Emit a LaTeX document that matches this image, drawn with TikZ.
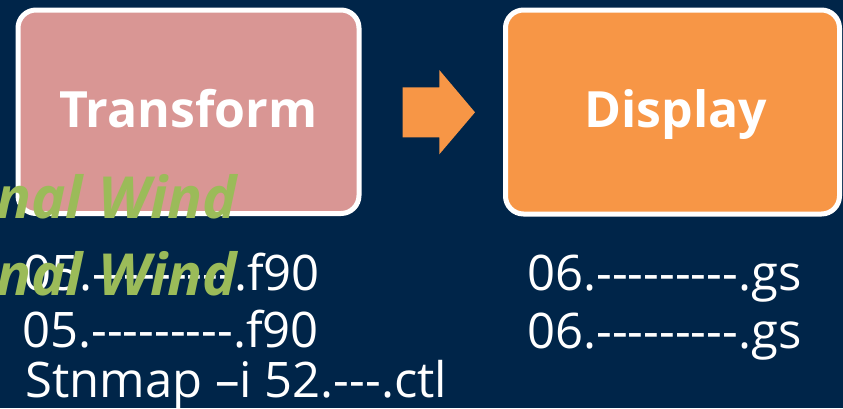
\documentclass[tikz,border=0pt]{standalone}
\usepackage{fontspec}
\newfontfamily\osf{Open Sans}
\definecolor{bgnavy}{RGB}{0,37,73}
\definecolor{boxpink}{HTML}{D99694}
\definecolor{boxorange}{HTML}{F79646}
\definecolor{windgreen}{HTML}{9BBB59}
\tikzset{
  stagebox/.style={draw=white, line width=5pt, rounded corners=18pt, inner sep=0pt},
  stagetext/.style={text=white, font=\osf\bfseries\fontsize{50}{50}\selectfont, anchor=base, inner sep=0pt},
  filetext/.style={text=white, font=\osf\fontsize{49}{49}\selectfont, anchor=base west, inner sep=0pt},
  windtext/.style={text=windgreen, font=\osf\bfseries\itshape\fontsize{58}{58}\selectfont, anchor=base east, inner sep=0pt}
}
\begin{document}
\begin{tikzpicture}[x=1pt,y=-1pt]
\fill[bgnavy] (0,0) rectangle (843,408);
\useasboundingbox (0,0) rectangle (843,408);
\node[stagebox, fill=boxpink, minimum width=341pt, minimum height=203.5pt] (transform) at (188.5,111.75) {};
\node[stagebox, fill=boxorange, minimum width=334pt, minimum height=204pt] (display) at (672.5,112) {};
\node[stagetext] (transformlbl) at (188.5,127) {Transform};
\node[stagetext] (displaylbl) at (676,127) {Display};
\fill[boxorange] (402.7,87.3) -- (439.3,87.3) -- (439.3,70) -- (475,112.3) -- (439.3,154.3) -- (439.3,137.3) -- (402.7,137.3) -- cycle;
\node[filetext] (tf1) at (23,290) {05.---------.f90};
\node[filetext] (tf2) at (22,347) {05.---------.f90};
\node[filetext] (tf3) at (25,397) {Stnmap –i 52.---.ctl};
\node[filetext] (df1) at (527,290) {06.---------.gs};
\node[filetext] (df2) at (527,348) {06.---------.gs};
\node[windtext] (wind1) at (237,218) {nal Wind};
\node[windtext] (wind2) at (237,295) {nal Wind};
\end{tikzpicture}
\end{document}
